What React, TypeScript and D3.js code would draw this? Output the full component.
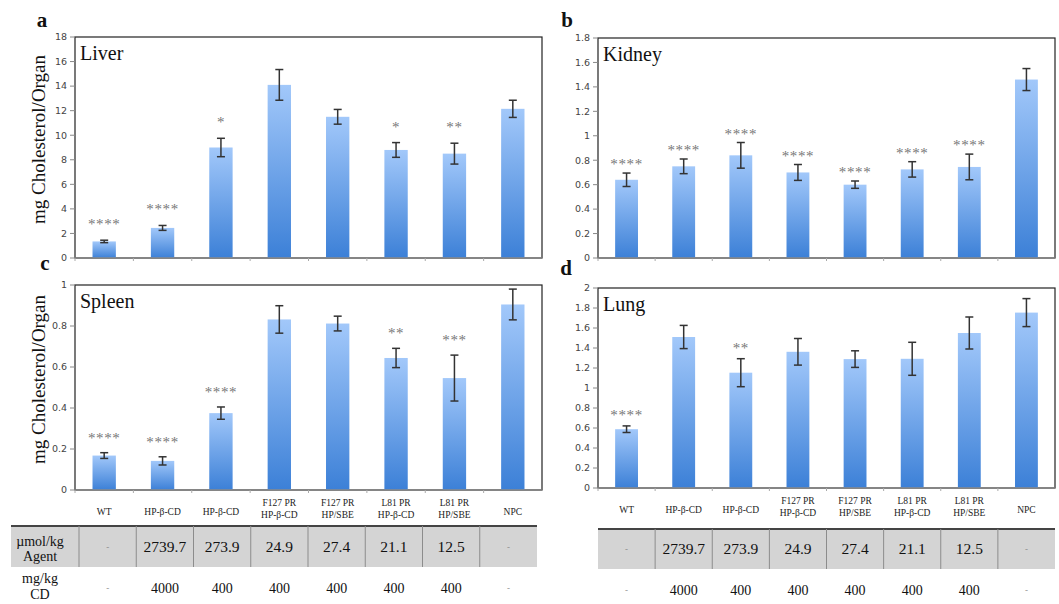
import React from 'react';
import * as d3 from 'd3';

// treatment groups (x categories), one entry per line of the label
const groups = [
  ['WT'],
  ['HP-β-CD'],
  ['HP-β-CD'],
  ['F127 PR', 'HP-β-CD'],
  ['F127 PR', 'HP/SBE'],
  ['L81 PR', 'HP-β-CD'],
  ['L81 PR', 'HP/SBE'],
  ['NPC'],
];

const liverMean = [1.35, 2.45, 9.0, 14.1, 11.5, 8.8, 8.5, 12.15];
const liverErr = [0.1, 0.2, 0.75, 1.25, 0.6, 0.6, 0.85, 0.7];
const liverSig = ['****', '****', '*', '', '', '*', '**', ''];

const kidneyMean = [0.64, 0.75, 0.84, 0.7, 0.6, 0.725, 0.745, 1.46];
const kidneyErr = [0.055, 0.06, 0.105, 0.065, 0.03, 0.063, 0.105, 0.09];
const kidneySig = ['****', '****', '****', '****', '****', '****', '****', ''];

const spleenMean = [0.168, 0.142, 0.375, 0.832, 0.812, 0.644, 0.546, 0.905];
const spleenErr = [0.014, 0.02, 0.03, 0.067, 0.036, 0.047, 0.112, 0.075];
const spleenSig = ['****', '****', '****', '', '', '**', '***', ''];

const lungMean = [0.588, 1.51, 1.153, 1.362, 1.289, 1.292, 1.55, 1.754];
const lungErr = [0.033, 0.116, 0.14, 0.133, 0.083, 0.165, 0.16, 0.14];
const lungSig = ['****', '', '**', '', '', '', '', ''];

const agentDose = ['-', '2739.7', '273.9', '24.9', '27.4', '21.1', '12.5', '-'];
const cdDose = ['-', '4000', '400', '400', '400', '400', '400', '-'];

const liverTicks = [0, 2, 4, 6, 8, 10, 12, 14, 16, 18];
const kidneyTicks = [0, 0.2, 0.4, 0.6, 0.8, 1, 1.2, 1.4, 1.6, 1.8];
const spleenTicks = [0, 0.2, 0.4, 0.6, 0.8, 1];
const lungTicks = [0, 0.2, 0.4, 0.6, 0.8, 1, 1.2, 1.4, 1.6, 1.8, 2];

const serif = { fontFamily: "'Liberation Serif', 'Times New Roman', Times, serif" };
const sans = { fontFamily: "'DejaVu Sans', Verdana, sans-serif" };

function Panel({ letter, organ, mean, err, sig, ticks, x0, x1, y0, y1, letterX, letterY, starGap, yLabel, xLabels }) {
  const keys = groups.map((g, i) => String(i));
  const x = d3.scaleBand().domain(keys).range([x0, x1]).paddingInner(0.6).paddingOuter(0.3);
  const y = d3.scaleLinear().domain([0, ticks[ticks.length - 1]]).range([y1, y0]);
  const cell = d3.scaleBand().domain(keys).range([x0, x1]);
  const bw = x.bandwidth();
  return (
    <g>
      <text x={letterX} y={letterY} style={serif} fontSize={21} fontWeight="bold" textAnchor="middle" fill="#111">{letter}</text>
      {yLabel && (
        <text transform={`translate(${x0 - 34},${(y0 + y1) / 2 - 8}) rotate(-90)`} style={serif} fontSize={19} textAnchor="middle" dominantBaseline="middle" fill="#111">mg Cholesterol/Organ</text>
      )}
      <rect x={x0} y={y0} width={x1 - x0} height={y1 - y0} fill="white" stroke="#222" strokeWidth={1.2} />
      {ticks.map(t => (
        <g key={t}>
          <line x1={x0 - 5} x2={x0} y1={y(t)} y2={y(t)} stroke="#888" />
          <text x={x0 - 8} y={y(t)} dy="0.35em" style={sans} fontSize={9.5} textAnchor="end" fill="#444">{t}</text>
        </g>
      ))}
      {keys.map((k, i) => (
        <g key={k}>
          <rect x={x(k)} y={y(mean[i])} width={bw} height={y1 - y(mean[i])} fill="url(#barGrad)" />
          <line x1={x(k) + bw / 2} x2={x(k) + bw / 2} y1={y(mean[i] + err[i])} y2={y(mean[i] - err[i])} stroke="#333" strokeWidth={1.5} />
          <line x1={x(k) + bw / 2 - 4} x2={x(k) + bw / 2 + 4} y1={y(mean[i] + err[i])} y2={y(mean[i] + err[i])} stroke="#333" strokeWidth={1.5} />
          <line x1={x(k) + bw / 2 - 4} x2={x(k) + bw / 2 + 4} y1={y(mean[i] - err[i])} y2={y(mean[i] - err[i])} stroke="#333" strokeWidth={1.5} />
          {sig[i] && (
            <text x={x(k) + bw / 2} y={y(mean[i] + err[i]) - starGap} style={serif} fontSize={15} letterSpacing={0.6} textAnchor="middle" fill="#777">{sig[i]}</text>
          )}
        </g>
      ))}
      <line x1={x0} x2={x1} y1={y1} y2={y1} stroke="#8a8a8a" strokeWidth={1.5} />
      {keys.map(k => (
        <line key={k} x1={cell(k)} x2={cell(k)} y1={y1} y2={y1 + 3} stroke="#aaa" />
      ))}
      <text x={x0 + 5} y={y0 + 23} style={serif} fontSize={20} fill="#111">{organ}</text>
      {xLabels && keys.map((k, i) => (
        <text key={k} x={x(k) + bw / 2} y={groups[i].length === 1 ? y1 + 25 : y1 + 16} style={serif} fontSize={9.5} textAnchor="middle" fill="#222">
          {groups[i].map((l, j) => <tspan key={j} x={x(k) + bw / 2} dy={j === 0 ? 0 : 12}>{l}</tspan>)}
        </text>
      ))}
    </g>
  );
}

function DoseTable({ x0, x1, top, bottom, rowY, header }) {
  const keys = groups.map((g, i) => String(i));
  const cell = d3.scaleBand().domain(keys).range([x0, x1]);
  const left = header ? 11 : x0;
  return (
    <g>
      <rect x={left} y={top} width={x1 - left} height={bottom - top} fill="#d4d4d4" />
      <line x1={left} x2={x1} y1={top} y2={top} stroke="#444" strokeWidth={2} />
      {header && <line x1={x0} x2={x0} y1={top} y2={bottom} stroke="#8c8c8c" />}
      {keys.slice(1).map(k => (
        <line key={k} x1={cell(k)} x2={cell(k)} y1={top} y2={bottom} stroke="#8c8c8c" />
      ))}
      {header && (
        <g style={serif} fontSize={14} textAnchor="middle" fill="#111">
          <text x={40} y={top + 20}>µmol/kg</text>
          <text x={40} y={top + 35}>Agent</text>
          <text x={40} y={rowY - 5}>mg/kg</text>
          <text x={40} y={rowY + 11}>CD</text>
        </g>
      )}
      {keys.map((k, i) => (
        <g key={k} style={serif} textAnchor="middle">
          <text x={cell(k) + cell.bandwidth() / 2} y={(top + bottom) / 2} dy="0.35em" fontSize={agentDose[i] === '-' ? 9 : 15.5} fill={agentDose[i] === '-' ? '#888' : '#111'}>{agentDose[i]}</text>
          <text x={cell(k) + cell.bandwidth() / 2} y={rowY} dy="0.35em" fontSize={cdDose[i] === '-' ? 9 : 14} fill={cdDose[i] === '-' ? '#888' : '#111'}>{cdDose[i]}</text>
        </g>
      ))}
    </g>
  );
}

export default function App() {
  return (
    <svg width={1059} height={604} style={{ position: 'absolute', left: 0, top: 0, background: 'white' }}>
      <defs>
        <linearGradient id="barGrad" x1="0" y1="0" x2="0" y2="1">
          <stop offset="0%" stopColor="#a2c8fa" />
          <stop offset="100%" stopColor="#3c80d7" />
        </linearGradient>
      </defs>
      <Panel letter="a" organ="Liver" mean={liverMean} err={liverErr} sig={liverSig} ticks={liverTicks}
        x0={75} x1={542} y0={37} y1={258} letterX={42} letterY={27} starGap={11} yLabel xLabels={false} />
      <Panel letter="b" organ="Kidney" mean={kidneyMean} err={kidneyErr} sig={kidneySig} ticks={kidneyTicks}
        x0={598} x1={1055} y0={38} y1={258} letterX={567} letterY={27} starGap={4} yLabel={false} xLabels={false} />
      <Panel letter="c" organ="Spleen" mean={spleenMean} err={spleenErr} sig={spleenSig} ticks={spleenTicks}
        x0={75} x1={542} y0={285} y1={490} letterX={45} letterY={270} starGap={10} yLabel xLabels />
      <Panel letter="d" organ="Lung" mean={lungMean} err={lungErr} sig={lungSig} ticks={lungTicks}
        x0={598} x1={1055} y0={288} y1={488} letterX={566} letterY={275} starGap={6} yLabel={false} xLabels />
      <DoseTable x0={79} x1={537} top={526} bottom={567} rowY={588} header />
      <DoseTable x0={598} x1={1055} top={529} bottom={569} rowY={590} header={false} />
    </svg>
  );
}
